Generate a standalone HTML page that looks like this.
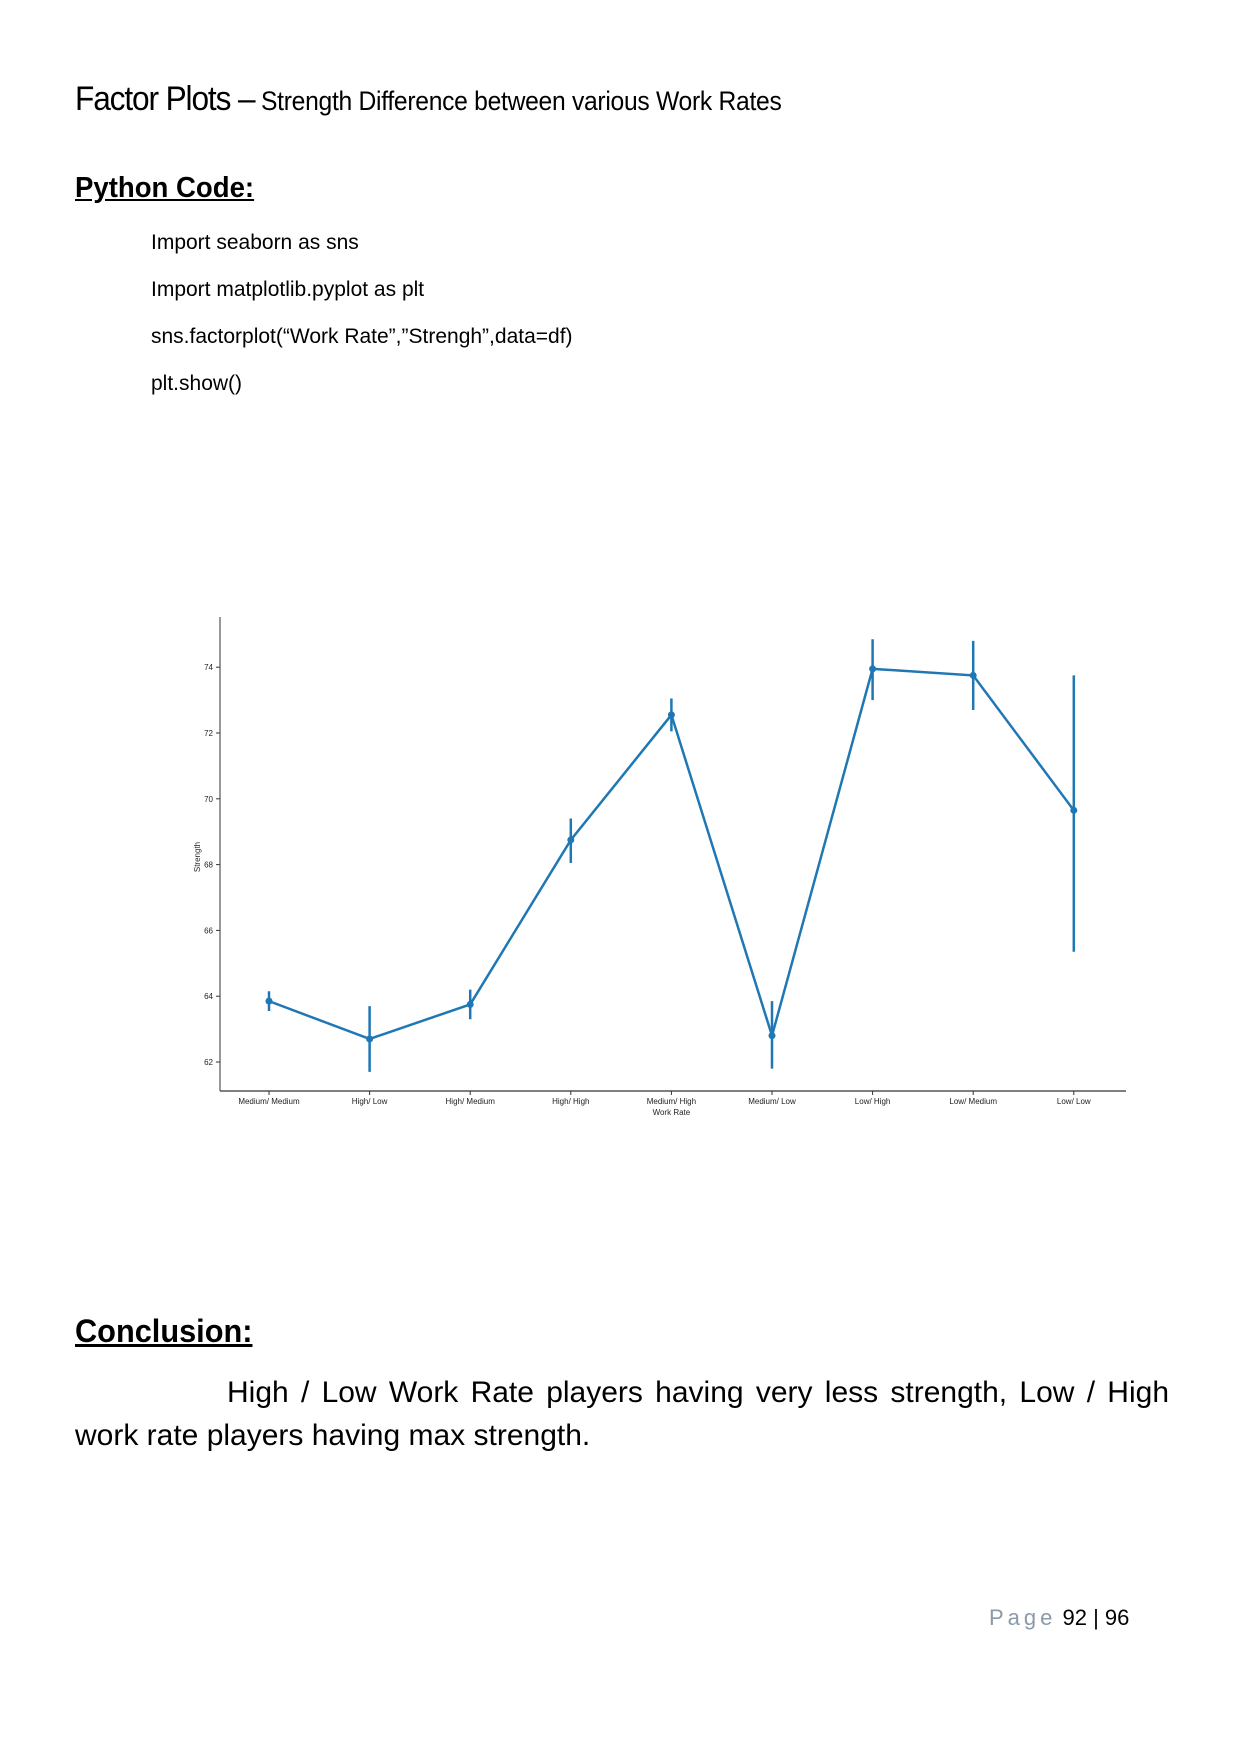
<!DOCTYPE html>
<html><head><meta charset="utf-8"><style>
body{margin:0;background:#fff;}
#page{position:relative;width:1240px;height:1754px;background:#fff;font-family:"Liberation Sans",sans-serif;color:#000;overflow:hidden;}
.abs{position:absolute;white-space:nowrap;}
</style></head><body>
<div id="page">
<div class="abs" style="left:75px;top:80px;font-size:34px;letter-spacing:-1.2px;transform:scaleX(0.93);transform-origin:0 0">Factor Plots –<span style="font-size:26.5px;letter-spacing:-0.3px"> Strength Difference between various Work Rates</span></div>
<div class="abs" style="left:75px;top:172px;font-size:29px;font-weight:bold;text-decoration:underline;transform:scaleX(0.95);transform-origin:0 0">Python Code:</div>
<div class="abs" style="left:151px;top:219px;font-size:21px;line-height:47px">Import seaborn as sns<br>Import matplotlib.pyplot as plt<br>sns.factorplot(“Work Rate”,”Strengh”,data=df)<br>plt.show()</div>
<svg id="chart" class="abs" style="left:0;top:0" width="1240" height="1200"></svg>
<div class="abs" style="left:75px;top:1313px;font-size:32px;font-weight:bold;text-decoration:underline;transform:scaleX(0.96);transform-origin:0 0">Conclusion:</div>
<div class="abs" style="left:227px;top:1371px;width:942px;font-size:30px;line-height:43px;text-align:justify;text-align-last:justify">High / Low Work Rate players having very less strength, Low / High</div>
<div class="abs" style="left:75px;top:1414px;font-size:30px;line-height:43px">work rate players having max strength.</div>
<div class="abs" style="left:989px;top:1605px;font-size:22px"><span style="color:#8a9aaa;letter-spacing:4px">Page</span> 92 | 96</div>
</div>
<script>
const categories=["Medium/ Medium","High/ Low","High/ Medium","High/ High","Medium/ High","Medium/ Low","Low/ High","Low/ Medium","Low/ Low"];
const means=[63.85,62.7,63.75,68.75,72.55,62.8,73.95,73.75,69.65];
const ciLow=[63.55,61.7,63.3,68.05,72.05,61.8,73.0,72.7,65.35];
const ciHigh=[64.15,63.7,64.2,69.4,73.05,63.85,74.85,74.8,73.75];
const yTicks=[62,64,66,68,70,72,74];
const NS="http://www.w3.org/2000/svg";
const svg=document.getElementById('chart');
const x=i=>269+i*100.6;
const y=v=>1062-(v-62)*32.9;
function mk(t,a){const e=document.createElementNS(NS,t);for(const k in a)e.setAttribute(k,a[k]);svg.appendChild(e);return e;}
let e;
e=mk('line',{x1:220,y1:617,x2:220,y2:1091,stroke:'#333','stroke-width':1});


e=mk('line',{x1:220,y1:1091,x2:1126,y2:1091,stroke:'#555','stroke-width':1.5});


yTicks.forEach(v=>{
 e=mk('line',{x1:216,y1:y(v),x2:220,y2:y(v),stroke:'#333'});
 
 
 e=mk('text',{x:213,y:y(v)+3,'font-size':8,'text-anchor':'end','font-family':'Liberation Sans, sans-serif',fill:'#222'});e.textContent=v;
 
 
});
categories.forEach((c,i)=>{
 e=mk('line',{x1:x(i),y1:1091,x2:x(i),y2:1095,stroke:'#333'});
 
 
 e=mk('text',{x:x(i),y:1104,'font-size':8,'text-anchor':'middle','font-family':'Liberation Sans, sans-serif',fill:'#222'});e.textContent=c;
 
 
});
e=mk('text',{x:x(4),y:1115,'font-size':8,'text-anchor':'middle','font-family':'Liberation Sans, sans-serif',fill:'#222'});e.textContent='Work Rate';


e=mk('text',{x:200,y:857,'font-size':8,'text-anchor':'middle','font-family':'Liberation Sans, sans-serif',fill:'#222',transform:'rotate(-90 200 857)'});e.textContent='Strength';


e=mk('polyline',{points:means.map((v,i)=>x(i)+','+y(v)).join(' '),fill:'none',stroke:'#1f77b4','stroke-width':2.5});


means.forEach((v,i)=>{
 e=mk('line',{x1:x(i),y1:y(ciLow[i]),x2:x(i),y2:y(ciHigh[i]),stroke:'#1f77b4','stroke-width':2.5});
 
 
 e=mk('circle',{cx:x(i),cy:y(v),r:3.5,fill:'#1f77b4'});
 
 
});
</script>
</body></html>
